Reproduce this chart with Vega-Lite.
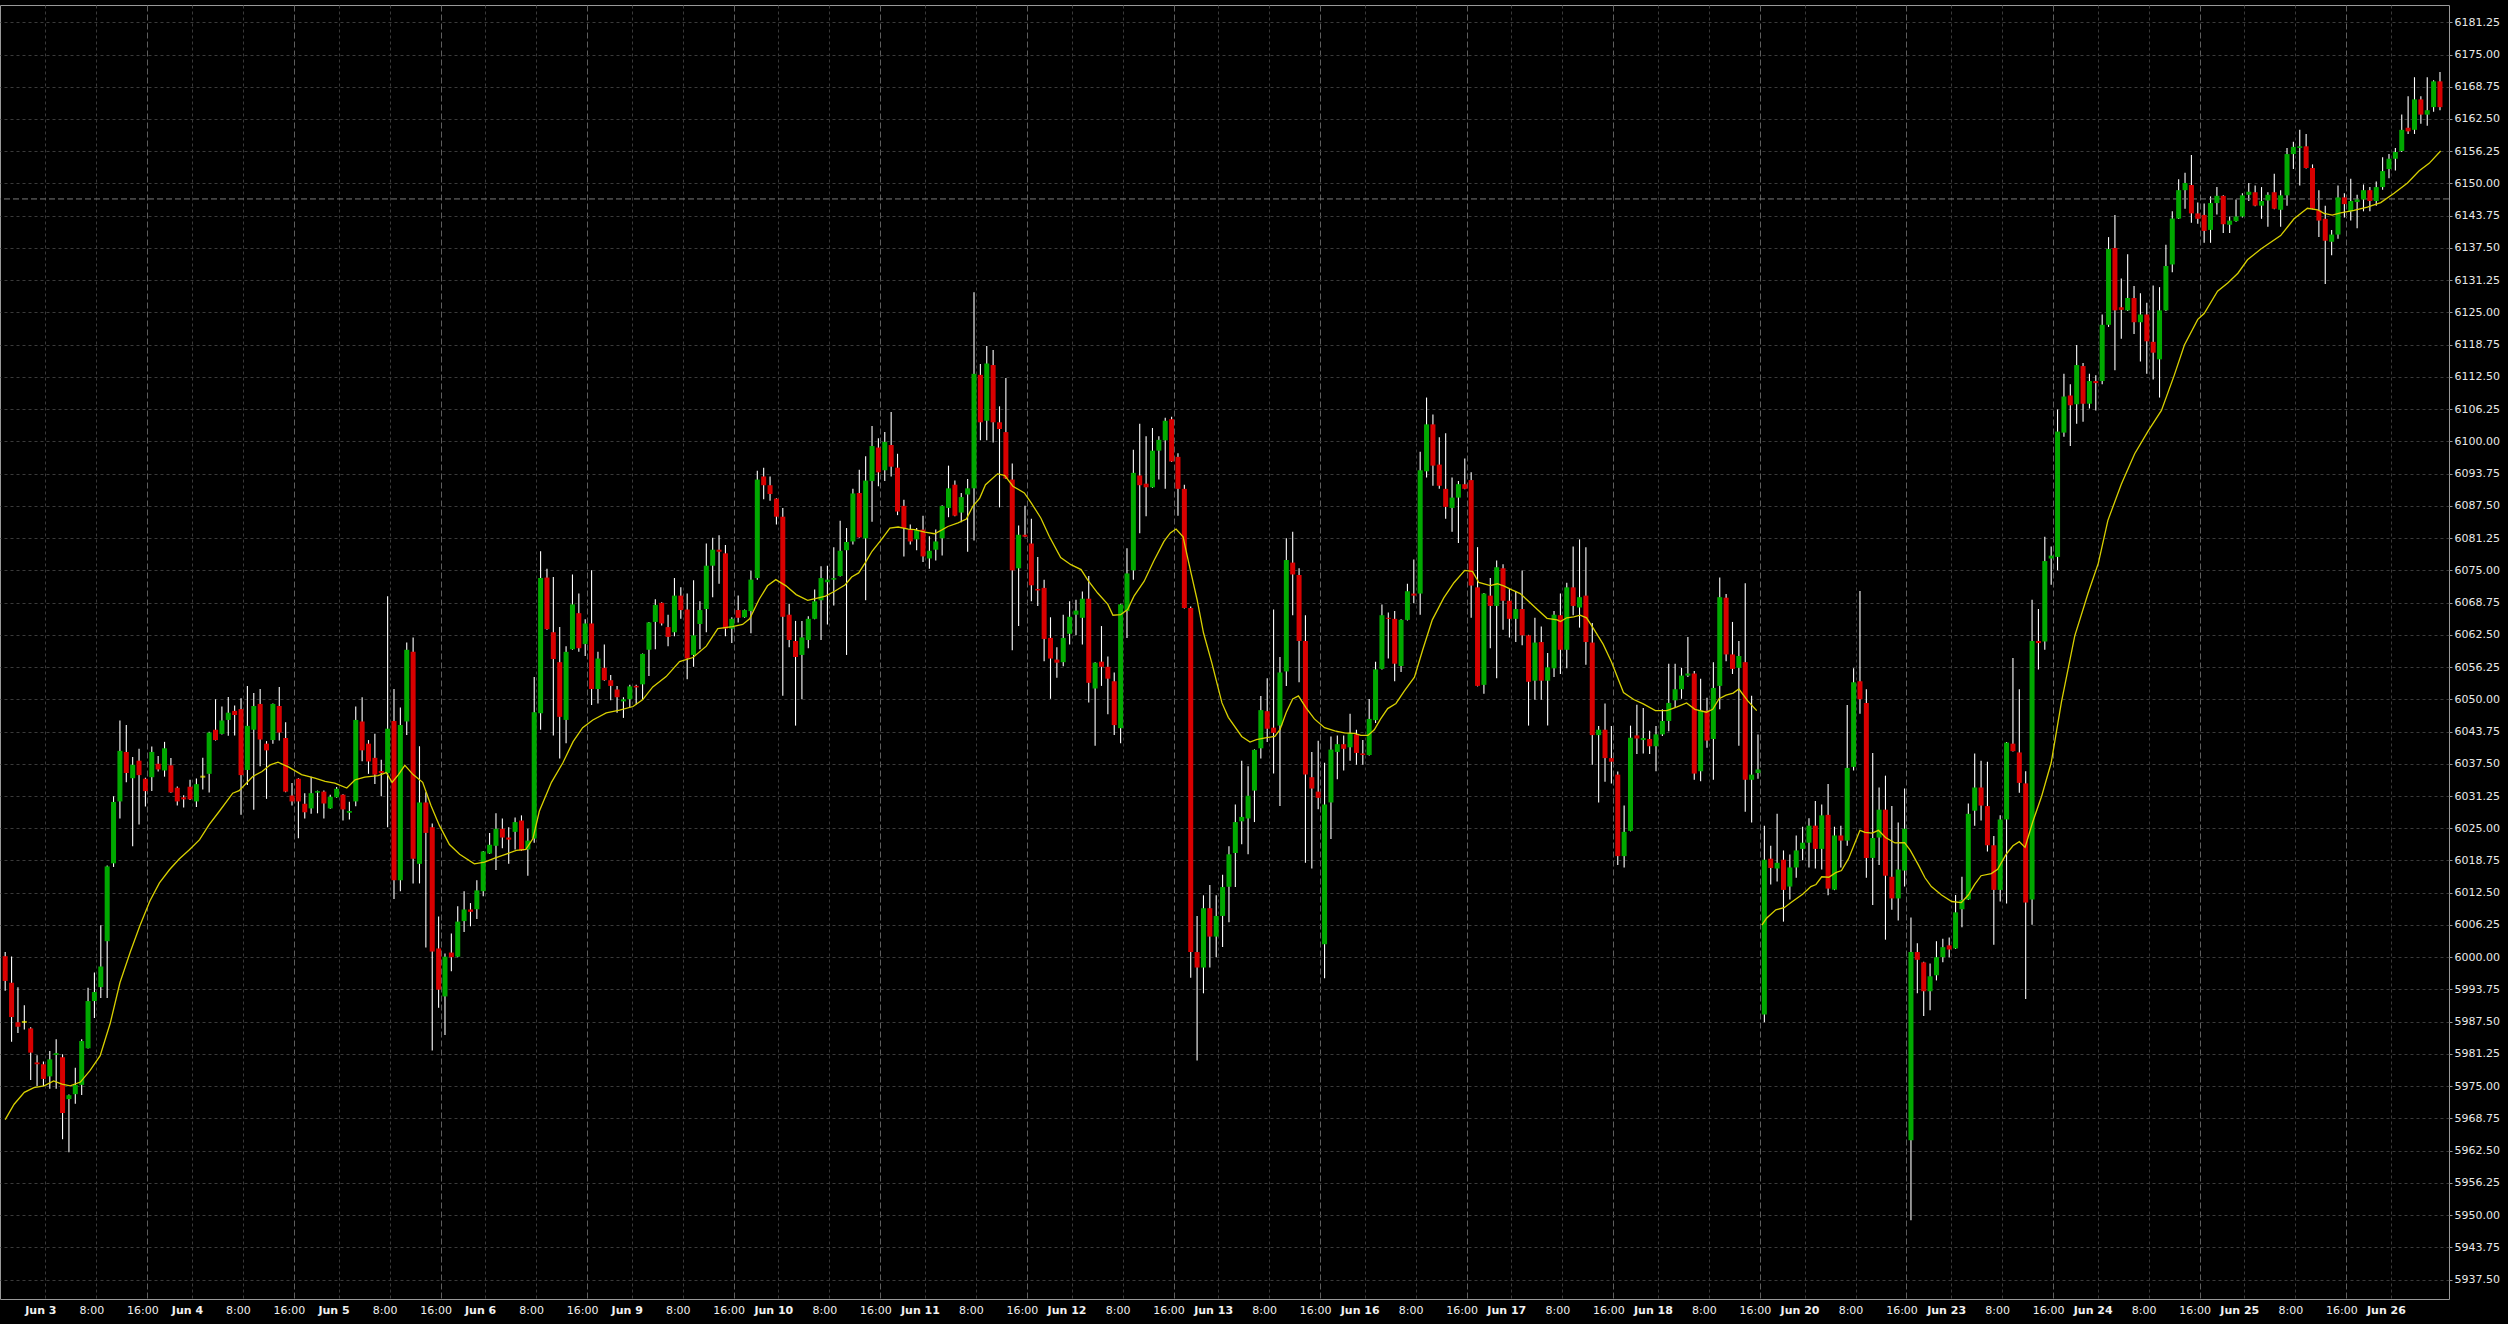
{
"$schema":"https://vega.github.io/schema/vega-lite/v6.json",
"width":2449,"height":1294,
"autosize":{"type":"none"},
"padding":{"left":0,"top":5,"right":59,"bottom":25},
"background":"#000000",
"config":{"view":{"stroke":"#999999","fill":"#000000"},"font":"DejaVu Sans",
  "axis":{"labelOverlap":false,"labelBound":false,"labelFlush":false},
  "axisY":{"labelOverlap":false,"tickCount":40},"axisX":{"labelOverlap":false}},
"datasets":{
"k":[
{"i":0,"o":6000.2,"h":6001.0,"l":5993.5,"c":5995.4},
{"i":1,"o":5995.05,"h":6000.15,"l":5983.6,"c":5988.4},
{"i":2,"o":5987.4,"h":5994.2,"l":5985.3,"c":5986.5},
{"i":3,"o":5987.45,"h":5990.7,"l":5986.0,"c":5987.45},
{"i":4,"o":5986.2,"h":5986.4,"l":5976.2,"c":5981.5},
{"i":5,"o":5979.6,"h":5981.0,"l":5975.05,"c":5979.25},
{"i":6,"o":5979.25,"h":5979.8,"l":5975.05,"c":5976.4},
{"i":7,"o":5976.9,"h":5981.8,"l":5974.5,"c":5980.2},
{"i":8,"o":5981.05,"h":5984.1,"l":5974.5,"c":5981.4},
{"i":9,"o":5980.6,"h":5981.2,"l":5964.7,"c":5969.8},
{"i":10,"o":5972.5,"h":5973.4,"l":5962.2,"c":5973.25},
{"i":11,"o":5973.45,"h":5978.55,"l":5971.6,"c":5975.25},
{"i":12,"o":5975.25,"h":5984.1,"l":5973.3,"c":5983.75},
{"i":13,"o":5982.35,"h":5994.1,"l":5982.3,"c":5991.5},
{"i":14,"o":5991.5,"h":5997.05,"l":5988.2,"c":5993.25},
{"i":15,"o":5994.2,"h":6006.2,"l":5992.1,"c":5998.2},
{"i":16,"o":6003.1,"h":6017.8,"l":5992.1,"c":6017.6},
{"i":17,"o":6018.2,"h":6031.2,"l":6017.5,"c":6030.1},
{"i":18,"o":6030.2,"h":6045.9,"l":6026.9,"c":6040.0},
{"i":19,"o":6039.8,"h":6045.0,"l":6033.9,"c":6035.7},
{"i":20,"o":6034.7,"h":6038.8,"l":6021.5,"c":6037.3},
{"i":21,"o":6038.1,"h":6040.4,"l":6025.75,"c":6035.3},
{"i":22,"o":6034.6,"h":6034.8,"l":6029.2,"c":6032.2},
{"i":23,"o":6034.9,"h":6040.85,"l":6032.2,"c":6039.8},
{"i":24,"o":6037.5,"h":6039.0,"l":6036.0,"c":6036.4},
{"i":25,"o":6036.2,"h":6041.75,"l":6035.0,"c":6040.5},
{"i":26,"o":6037.2,"h":6038.6,"l":6031.9,"c":6031.95},
{"i":27,"o":6032.85,"h":6033.1,"l":6029.4,"c":6030.2},
{"i":28,"o":6031.0,"h":6031.4,"l":6029.0,"c":6030.6},
{"i":29,"o":6033.05,"h":6034.4,"l":6030.5,"c":6030.6},
{"i":30,"o":6030.2,"h":6034.65,"l":6029.1,"c":6033.55},
{"i":31,"o":6035.0,"h":6038.65,"l":6032.5,"c":6035.0},
{"i":32,"o":6035.55,"h":6043.7,"l":6031.95,"c":6043.55},
{"i":33,"o":6044.1,"h":6050.0,"l":6042.0,"c":6042.1},
{"i":34,"o":6043.3,"h":6048.6,"l":6043.2,"c":6045.9},
{"i":35,"o":6046.0,"h":6050.45,"l":6042.95,"c":6047.4},
{"i":36,"o":6047.75,"h":6048.8,"l":6043.0,"c":6046.95},
{"i":37,"o":6048.1,"h":6050.2,"l":6027.6,"c":6035.3},
{"i":38,"o":6036.3,"h":6052.6,"l":6033.4,"c":6044.85},
{"i":39,"o":6044.1,"h":6051.2,"l":6028.6,"c":6048.7},
{"i":40,"o":6049.1,"h":6052.0,"l":6037.0,"c":6042.2},
{"i":41,"o":6041.4,"h":6041.9,"l":6030.7,"c":6040.1},
{"i":42,"o":6042.1,"h":6049.2,"l":6041.4,"c":6049.1},
{"i":43,"o":6048.7,"h":6052.4,"l":6042.0,"c":6043.55},
{"i":44,"o":6042.5,"h":6045.55,"l":6032.0,"c":6032.1},
{"i":45,"o":6031.35,"h":6033.75,"l":6029.4,"c":6030.2},
{"i":46,"o":6034.6,"h":6034.7,"l":6023.05,"c":6030.2},
{"i":47,"o":6029.75,"h":6031.8,"l":6026.9,"c":6028.1},
{"i":48,"o":6028.85,"h":6035.0,"l":6027.8,"c":6031.8},
{"i":49,"o":6031.9,"h":6032.3,"l":6027.9,"c":6032.2},
{"i":50,"o":6032.1,"h":6032.3,"l":6026.9,"c":6029.8},
{"i":51,"o":6028.85,"h":6031.5,"l":6028.8,"c":6031.1},
{"i":52,"o":6031.0,"h":6033.0,"l":6030.9,"c":6032.65},
{"i":53,"o":6031.5,"h":6031.6,"l":6026.5,"c":6028.65},
{"i":54,"o":6028.0,"h":6030.15,"l":6026.7,"c":6028.35},
{"i":55,"o":6030.2,"h":6048.6,"l":6029.25,"c":6046.0},
{"i":56,"o":6045.7,"h":6050.4,"l":6038.0,"c":6040.1},
{"i":57,"o":6041.4,"h":6042.1,"l":6035.55,"c":6037.95},
{"i":58,"o":6038.65,"h":6043.3,"l":6033.6,"c":6035.4},
{"i":59,"o":6036.1,"h":6038.3,"l":6031.2,"c":6035.7},
{"i":60,"o":6035.7,"h":6070.0,"l":6025.2,"c":6044.3},
{"i":61,"o":6045.8,"h":6052.0,"l":6011.3,"c":6014.9},
{"i":62,"o":6014.9,"h":6048.4,"l":6012.8,"c":6045.0},
{"i":63,"o":6045.7,"h":6061.0,"l":6043.1,"c":6059.6},
{"i":64,"o":6059.2,"h":6062.0,"l":6014.3,"c":6019.1},
{"i":65,"o":6018.1,"h":6040.9,"l":6014.3,"c":6030.0},
{"i":66,"o":6030.0,"h":6032.0,"l":6001.9,"c":6024.1},
{"i":67,"o":6025.2,"h":6025.9,"l":5981.9,"c":6001.1},
{"i":68,"o":6001.7,"h":6007.9,"l":5990.2,"c":5993.7},
{"i":69,"o":5992.4,"h":6000.7,"l":5984.9,"c":6000.1},
{"i":70,"o":6000.9,"h":6004.6,"l":5997.3,"c":6000.0},
{"i":71,"o":6000.1,"h":6009.9,"l":6000.0,"c":6006.9},
{"i":72,"o":6007.0,"h":6012.8,"l":6004.9,"c":6009.25},
{"i":73,"o":6009.25,"h":6010.5,"l":6006.0,"c":6008.8},
{"i":74,"o":6009.3,"h":6014.9,"l":6007.4,"c":6012.95},
{"i":75,"o":6012.8,"h":6020.6,"l":6011.8,"c":6020.5},
{"i":76,"o":6020.1,"h":6024.1,"l":6020.0,"c":6021.8},
{"i":77,"o":6021.6,"h":6027.9,"l":6016.9,"c":6024.9},
{"i":78,"o":6024.9,"h":6026.9,"l":6021.1,"c":6023.2},
{"i":79,"o":6023.2,"h":6025.2,"l":6018.1,"c":6022.8},
{"i":80,"o":6024.3,"h":6027.1,"l":6020.9,"c":6026.2},
{"i":81,"o":6026.5,"h":6027.5,"l":6020.6,"c":6020.7},
{"i":82,"o":6020.9,"h":6024.9,"l":6015.8,"c":6022.6},
{"i":83,"o":6023.0,"h":6054.3,"l":6022.2,"c":6047.5},
{"i":84,"o":6047.3,"h":6078.7,"l":6044.1,"c":6073.5},
{"i":85,"o":6073.6,"h":6075.3,"l":6063.5,"c":6063.6},
{"i":86,"o":6063.0,"h":6073.7,"l":6043.0,"c":6057.8},
{"i":87,"o":6057.2,"h":6064.0,"l":6038.5,"c":6046.6},
{"i":88,"o":6046.0,"h":6060.3,"l":6041.5,"c":6059.2},
{"i":89,"o":6059.7,"h":6074.2,"l":6059.6,"c":6068.4},
{"i":90,"o":6066.7,"h":6070.5,"l":6059.2,"c":6059.9},
{"i":91,"o":6060.7,"h":6065.5,"l":6058.4,"c":6064.7},
{"i":92,"o":6064.7,"h":6075.0,"l":6048.9,"c":6052.0},
{"i":93,"o":6052.0,"h":6059.2,"l":6049.2,"c":6057.9},
{"i":94,"o":6056.1,"h":6060.6,"l":6053.6,"c":6053.7},
{"i":95,"o":6053.7,"h":6054.7,"l":6049.8,"c":6052.6},
{"i":96,"o":6051.9,"h":6052.6,"l":6047.4,"c":6050.4},
{"i":97,"o":6049.6,"h":6050.4,"l":6046.4,"c":6050.0},
{"i":98,"o":6050.0,"h":6052.8,"l":6048.5,"c":6052.5},
{"i":99,"o":6052.6,"h":6052.8,"l":6049.0,"c":6052.3},
{"i":100,"o":6052.9,"h":6058.9,"l":6049.9,"c":6058.8},
{"i":101,"o":6059.6,"h":6065.0,"l":6054.5,"c":6064.9},
{"i":102,"o":6065.0,"h":6069.4,"l":6059.7,"c":6068.3},
{"i":103,"o":6068.7,"h":6068.8,"l":6064.3,"c":6064.7},
{"i":104,"o":6064.0,"h":6066.4,"l":6060.3,"c":6062.1},
{"i":105,"o":6063.0,"h":6073.5,"l":6062.2,"c":6070.1},
{"i":106,"o":6070.1,"h":6071.7,"l":6065.6,"c":6067.3},
{"i":107,"o":6067.4,"h":6070.5,"l":6053.9,"c":6057.9},
{"i":108,"o":6058.6,"h":6073.1,"l":6056.3,"c":6062.4},
{"i":109,"o":6064.6,"h":6069.0,"l":6059.7,"c":6067.3},
{"i":110,"o":6067.5,"h":6080.2,"l":6063.0,"c":6075.9},
{"i":111,"o":6075.9,"h":6081.3,"l":6069.8,"c":6079.0},
{"i":112,"o":6079.0,"h":6081.8,"l":6072.4,"c":6078.6},
{"i":113,"o":6078.3,"h":6079.9,"l":6062.2,"c":6063.7},
{"i":114,"o":6063.7,"h":6065.9,"l":6060.9,"c":6065.6},
{"i":115,"o":6067.3,"h":6070.1,"l":6064.9,"c":6065.8},
{"i":116,"o":6065.9,"h":6067.4,"l":6065.8,"c":6067.3},
{"i":117,"o":6067.1,"h":6074.9,"l":6062.8,"c":6073.2},
{"i":118,"o":6073.5,"h":6094.3,"l":6073.2,"c":6092.6},
{"i":119,"o":6093.2,"h":6094.9,"l":6088.8,"c":6091.5},
{"i":120,"o":6091.5,"h":6093.2,"l":6088.5,"c":6089.8},
{"i":121,"o":6088.9,"h":6089.0,"l":6083.9,"c":6085.4},
{"i":122,"o":6085.4,"h":6087.1,"l":6050.7,"c":6066.0},
{"i":123,"o":6066.4,"h":6068.5,"l":6060.1,"c":6061.5},
{"i":124,"o":6061.3,"h":6065.2,"l":6044.9,"c":6058.2},
{"i":125,"o":6058.6,"h":6065.2,"l":6050.0,"c":6062.0},
{"i":126,"o":6061.5,"h":6066.1,"l":6059.9,"c":6065.6},
{"i":127,"o":6065.6,"h":6071.3,"l":6065.5,"c":6069.0},
{"i":128,"o":6069.2,"h":6075.8,"l":6061.5,"c":6073.5},
{"i":129,"o":6072.7,"h":6075.9,"l":6064.5,"c":6073.2},
{"i":130,"o":6073.2,"h":6079.5,"l":6068.2,"c":6073.5},
{"i":131,"o":6073.9,"h":6084.6,"l":6073.8,"c":6078.8},
{"i":132,"o":6078.9,"h":6083.2,"l":6058.6,"c":6080.5},
{"i":133,"o":6080.6,"h":6090.8,"l":6080.0,"c":6089.9},
{"i":134,"o":6090.0,"h":6094.5,"l":6081.3,"c":6081.4},
{"i":135,"o":6081.2,"h":6097.1,"l":6069.2,"c":6092.4},
{"i":136,"o":6092.3,"h":6103.0,"l":6084.4,"c":6099.1},
{"i":137,"o":6098.8,"h":6100.6,"l":6091.3,"c":6094.0},
{"i":138,"o":6094.4,"h":6101.8,"l":6092.3,"c":6099.9},
{"i":139,"o":6099.3,"h":6105.7,"l":6093.2,"c":6095.1},
{"i":140,"o":6094.9,"h":6097.6,"l":6085.7,"c":6086.4},
{"i":141,"o":6087.5,"h":6088.7,"l":6077.7,"c":6083.2},
{"i":142,"o":6082.9,"h":6083.9,"l":6080.0,"c":6080.6},
{"i":143,"o":6081.0,"h":6083.2,"l":6078.9,"c":6082.8},
{"i":144,"o":6082.9,"h":6085.6,"l":6076.6,"c":6077.7},
{"i":145,"o":6077.3,"h":6081.6,"l":6075.3,"c":6078.8},
{"i":146,"o":6079.0,"h":6082.9,"l":6076.9,"c":6080.6},
{"i":147,"o":6081.2,"h":6087.6,"l":6077.9,"c":6087.5},
{"i":148,"o":6087.1,"h":6095.3,"l":6085.3,"c":6090.9},
{"i":149,"o":6091.6,"h":6092.4,"l":6085.5,"c":6085.6},
{"i":150,"o":6086.2,"h":6090.0,"l":6084.3,"c":6089.2},
{"i":151,"o":6089.7,"h":6092.7,"l":6078.6,"c":6090.9},
{"i":152,"o":6090.9,"h":6128.9,"l":6080.8,"c":6113.1},
{"i":153,"o":6112.9,"h":6115.0,"l":6100.2,"c":6103.7},
{"i":154,"o":6104.0,"h":6118.5,"l":6100.2,"c":6115.1},
{"i":155,"o":6114.8,"h":6117.7,"l":6099.8,"c":6103.7},
{"i":156,"o":6103.7,"h":6106.8,"l":6087.2,"c":6102.4},
{"i":157,"o":6101.8,"h":6112.3,"l":6092.7,"c":6092.8},
{"i":158,"o":6092.6,"h":6095.7,"l":6059.5,"c":6075.0},
{"i":159,"o":6075.4,"h":6083.7,"l":6064.2,"c":6081.9},
{"i":160,"o":6081.9,"h":6087.5,"l":6081.4,"c":6081.5},
{"i":161,"o":6080.2,"h":6085.0,"l":6069.0,"c":6072.1},
{"i":162,"o":6071.4,"h":6077.6,"l":6068.1,"c":6071.1},
{"i":163,"o":6071.6,"h":6073.2,"l":6057.4,"c":6061.7},
{"i":164,"o":6061.9,"h":6065.9,"l":6050.1,"c":6057.9},
{"i":165,"o":6057.7,"h":6060.1,"l":6054.2,"c":6057.1},
{"i":166,"o":6057.2,"h":6066.4,"l":6056.4,"c":6061.9},
{"i":167,"o":6062.7,"h":6069.0,"l":6060.6,"c":6066.0},
{"i":168,"o":6066.4,"h":6069.3,"l":6062.4,"c":6067.2},
{"i":169,"o":6065.8,"h":6070.9,"l":6060.6,"c":6069.5},
{"i":170,"o":6069.5,"h":6073.9,"l":6049.4,"c":6053.2},
{"i":171,"o":6052.1,"h":6057.2,"l":6041.0,"c":6057.1},
{"i":172,"o":6057.3,"h":6064.2,"l":6052.6,"c":6056.3},
{"i":173,"o":6056.3,"h":6058.3,"l":6047.1,"c":6054.0},
{"i":174,"o":6053.5,"h":6055.2,"l":6043.1,"c":6045.0},
{"i":175,"o":6044.4,"h":6068.5,"l":6041.5,"c":6068.4},
{"i":176,"o":6067.1,"h":6079.3,"l":6061.9,"c":6074.4},
{"i":177,"o":6075.0,"h":6098.4,"l":6073.2,"c":6093.9},
{"i":178,"o":6093.4,"h":6103.4,"l":6082.2,"c":6091.5},
{"i":179,"o":6091.8,"h":6101.0,"l":6085.5,"c":6091.1},
{"i":180,"o":6091.1,"h":6102.6,"l":6091.0,"c":6098.2},
{"i":181,"o":6098.2,"h":6101.0,"l":6092.6,"c":6100.3},
{"i":182,"o":6100.2,"h":6104.6,"l":6090.8,"c":6104.0},
{"i":183,"o":6104.3,"h":6104.8,"l":6096.0,"c":6096.1},
{"i":184,"o":6097.0,"h":6097.7,"l":6085.6,"c":6090.8},
{"i":185,"o":6090.8,"h":6091.6,"l":6067.6,"c":6067.7},
{"i":186,"o":6067.7,"h":6068.0,"l":5996.0,"c":6001.0},
{"i":187,"o":6001.0,"h":6008.0,"l":5980.0,"c":5998.0},
{"i":188,"o":5998.0,"h":6012.0,"l":5993.0,"c":6009.5},
{"i":189,"o":6009.5,"h":6014.0,"l":5998.0,"c":6004.0},
{"i":190,"o":6004.0,"h":6012.0,"l":6000.0,"c":6008.0},
{"i":191,"o":6008.0,"h":6016.0,"l":6002.0,"c":6013.6},
{"i":192,"o":6013.65,"h":6021.5,"l":6006.8,"c":6019.95},
{"i":193,"o":6020.2,"h":6029.6,"l":6013.6,"c":6026.2},
{"i":194,"o":6026.35,"h":6038.1,"l":6021.9,"c":6027.2},
{"i":195,"o":6026.9,"h":6037.0,"l":6019.95,"c":6031.3},
{"i":196,"o":6032.3,"h":6040.3,"l":6026.2,"c":6040.2},
{"i":197,"o":6040.5,"h":6050.65,"l":6038.5,"c":6047.9},
{"i":198,"o":6047.7,"h":6054.1,"l":6041.7,"c":6044.3},
{"i":199,"o":6044.5,"h":6067.4,"l":6035.6,"c":6043.5},
{"i":200,"o":6044.9,"h":6058.2,"l":6029.3,"c":6055.2},
{"i":201,"o":6055.4,"h":6081.2,"l":6052.6,"c":6077.0},
{"i":202,"o":6076.5,"h":6082.5,"l":6066.3,"c":6074.2},
{"i":203,"o":6074.1,"h":6075.4,"l":6053.3,"c":6061.3},
{"i":204,"o":6061.3,"h":6066.3,"l":6018.3,"c":6035.4},
{"i":205,"o":6034.9,"h":6039.8,"l":6017.2,"c":6032.7},
{"i":206,"o":6032.1,"h":6041.95,"l":6028.7,"c":6030.9},
{"i":207,"o":6002.5,"h":6037.7,"l":5995.9,"c":6029.6},
{"i":208,"o":6030.0,"h":6042.8,"l":6022.9,"c":6040.25},
{"i":209,"o":6039.8,"h":6043.0,"l":6034.5,"c":6041.3},
{"i":210,"o":6041.3,"h":6043.0,"l":6036.2,"c":6040.4},
{"i":211,"o":6040.7,"h":6047.2,"l":6038.1,"c":6043.4},
{"i":212,"o":6043.2,"h":6044.1,"l":6037.3,"c":6039.6},
{"i":213,"o":6039.5,"h":6042.1,"l":6037.3,"c":6039.2},
{"i":214,"o":6039.2,"h":6050.05,"l":6039.1,"c":6046.2},
{"i":215,"o":6045.95,"h":6057.3,"l":6045.4,"c":6055.8},
{"i":216,"o":6055.9,"h":6068.4,"l":6055.8,"c":6066.3},
{"i":217,"o":6065.8,"h":6066.85,"l":6057.9,"c":6065.6},
{"i":218,"o":6065.6,"h":6067.1,"l":6053.5,"c":6056.9},
{"i":219,"o":6056.45,"h":6065.5,"l":6055.3,"c":6065.4},
{"i":220,"o":6065.4,"h":6072.4,"l":6065.3,"c":6070.95},
{"i":221,"o":6070.5,"h":6077.1,"l":6068.6,"c":6070.1},
{"i":222,"o":6070.5,"h":6098.0,"l":6066.4,"c":6094.4},
{"i":223,"o":6094.2,"h":6108.5,"l":6093.0,"c":6103.3},
{"i":224,"o":6103.3,"h":6105.2,"l":6091.4,"c":6095.3},
{"i":225,"o":6095.5,"h":6100.8,"l":6090.8,"c":6091.4},
{"i":226,"o":6090.8,"h":6101.6,"l":6085.0,"c":6087.3},
{"i":227,"o":6087.1,"h":6093.0,"l":6082.5,"c":6089.1},
{"i":228,"o":6089.1,"h":6092.3,"l":6080.3,"c":6091.7},
{"i":229,"o":6091.7,"h":6096.7,"l":6090.7,"c":6090.8},
{"i":230,"o":6092.5,"h":6094.0,"l":6065.8,"c":6072.05},
{"i":231,"o":6071.7,"h":6079.5,"l":6052.5,"c":6052.6},
{"i":232,"o":6052.8,"h":6070.6,"l":6051.1,"c":6070.5},
{"i":233,"o":6070.1,"h":6073.5,"l":6059.9,"c":6068.1},
{"i":234,"o":6068.1,"h":6076.9,"l":6054.1,"c":6075.6},
{"i":235,"o":6075.4,"h":6076.2,"l":6063.5,"c":6069.1},
{"i":236,"o":6069.1,"h":6071.4,"l":6062.0,"c":6065.6},
{"i":237,"o":6065.6,"h":6070.95,"l":6061.1,"c":6067.5},
{"i":238,"o":6067.5,"h":6074.95,"l":6060.5,"c":6062.4},
{"i":239,"o":6062.4,"h":6062.5,"l":6044.9,"c":6053.4},
{"i":240,"o":6053.6,"h":6065.8,"l":6049.9,"c":6061.0},
{"i":241,"o":6061.1,"h":6064.1,"l":6049.9,"c":6053.6},
{"i":242,"o":6053.6,"h":6059.0,"l":6044.9,"c":6056.2},
{"i":243,"o":6056.0,"h":6067.1,"l":6054.3,"c":6066.4},
{"i":244,"o":6066.3,"h":6070.5,"l":6054.9,"c":6059.6},
{"i":245,"o":6059.6,"h":6072.6,"l":6056.0,"c":6071.7},
{"i":246,"o":6071.7,"h":6079.6,"l":6066.3,"c":6068.1},
{"i":247,"o":6067.8,"h":6081.0,"l":6063.9,"c":6069.8},
{"i":248,"o":6070.1,"h":6079.5,"l":6056.7,"c":6061.1},
{"i":249,"o":6061.0,"h":6064.8,"l":6037.3,"c":6043.06},
{"i":250,"o":6043.06,"h":6044.8,"l":6030.0,"c":6044.1},
{"i":251,"o":6044.1,"h":6049.2,"l":6034.0,"c":6038.6},
{"i":252,"o":6038.6,"h":6044.8,"l":6033.7,"c":6037.9},
{"i":253,"o":6035.4,"h":6036.0,"l":6017.9,"c":6019.6},
{"i":254,"o":6019.6,"h":6029.4,"l":6017.4,"c":6024.3},
{"i":255,"o":6024.5,"h":6044.9,"l":6024.4,"c":6042.55},
{"i":256,"o":6043.0,"h":6048.95,"l":6039.4,"c":6042.4},
{"i":257,"o":6042.1,"h":6048.3,"l":6039.5,"c":6042.5},
{"i":258,"o":6042.3,"h":6043.9,"l":6039.4,"c":6040.9},
{"i":259,"o":6040.9,"h":6044.8,"l":6036.05,"c":6043.2},
{"i":260,"o":6043.2,"h":6048.05,"l":6042.9,"c":6045.8},
{"i":261,"o":6045.8,"h":6056.9,"l":6043.8,"c":6049.3},
{"i":262,"o":6049.8,"h":6056.9,"l":6048.3,"c":6051.95},
{"i":263,"o":6051.95,"h":6056.1,"l":6050.1,"c":6054.6},
{"i":264,"o":6054.6,"h":6062.1,"l":6054.3,"c":6055.0},
{"i":265,"o":6055.0,"h":6055.5,"l":6034.4,"c":6035.6},
{"i":266,"o":6036.05,"h":6054.0,"l":6034.1,"c":6047.8},
{"i":267,"o":6047.8,"h":6050.3,"l":6040.6,"c":6042.0},
{"i":268,"o":6042.3,"h":6057.2,"l":6034.4,"c":6052.2},
{"i":269,"o":6052.6,"h":6073.6,"l":6048.05,"c":6069.8},
{"i":270,"o":6069.7,"h":6070.4,"l":6057.4,"c":6058.7},
{"i":271,"o":6058.7,"h":6065.0,"l":6054.9,"c":6055.9},
{"i":272,"o":6056.1,"h":6061.3,"l":6041.0,"c":6058.4},
{"i":273,"o":6057.2,"h":6072.5,"l":6028.2,"c":6034.4},
{"i":274,"o":6034.4,"h":6050.7,"l":6026.1,"c":6035.4},
{"i":275,"o":6035.7,"h":6043.2,"l":6034.6,"c":6036.4},
{"i":276,"o":5988.9,"h":6025.5,"l":5987.4,"c":6018.9},
{"i":277,"o":6019.1,"h":6021.6,"l":6014.1,"c":6017.3},
{"i":278,"o":6017.2,"h":6027.8,"l":6014.7,"c":6018.3},
{"i":279,"o":6018.9,"h":6020.7,"l":6006.9,"c":6013.05},
{"i":280,"o":6013.7,"h":6019.9,"l":6011.2,"c":6017.4},
{"i":281,"o":6017.4,"h":6023.6,"l":6015.4,"c":6020.7},
{"i":282,"o":6021.0,"h":6025.3,"l":6018.8,"c":6022.2},
{"i":283,"o":6022.2,"h":6026.95,"l":6017.4,"c":6025.5},
{"i":284,"o":6025.5,"h":6030.3,"l":6017.2,"c":6021.0},
{"i":285,"o":6021.0,"h":6029.6,"l":6017.0,"c":6027.5},
{"i":286,"o":6027.6,"h":6033.6,"l":6012.0,"c":6013.3},
{"i":287,"o":6013.1,"h":6025.3,"l":6013.0,"c":6023.6},
{"i":288,"o":6023.6,"h":6025.5,"l":6017.4,"c":6022.6},
{"i":289,"o":6022.6,"h":6048.9,"l":6021.6,"c":6036.7},
{"i":290,"o":6036.9,"h":6056.0,"l":6036.2,"c":6053.3},
{"i":291,"o":6053.5,"h":6071.0,"l":6047.2,"c":6050.0},
{"i":292,"o":6049.3,"h":6051.95,"l":6015.4,"c":6019.25},
{"i":293,"o":6019.25,"h":6039.6,"l":6010.1,"c":6023.1},
{"i":294,"o":6023.2,"h":6032.9,"l":6017.9,"c":6028.6},
{"i":295,"o":6028.6,"h":6035.2,"l":6003.4,"c":6015.8},
{"i":296,"o":6015.6,"h":6029.3,"l":6009.2,"c":6011.4},
{"i":297,"o":6011.4,"h":6026.1,"l":6007.1,"c":6017.0},
{"i":298,"o":6016.8,"h":6032.7,"l":6013.7,"c":6024.9},
{"i":299,"o":5964.5,"h":6007.7,"l":5949.0,"c":6001.0},
{"i":300,"o":6001.0,"h":6002.7,"l":5993.0,"c":5999.5},
{"i":301,"o":5999.0,"h":5999.1,"l":5988.6,"c":5993.4},
{"i":302,"o":5993.4,"h":5998.8,"l":5989.7,"c":5996.3},
{"i":303,"o":5996.5,"h":6003.1,"l":5995.5,"c":6000.0},
{"i":304,"o":6000.0,"h":6003.6,"l":5999.0,"c":6001.95},
{"i":305,"o":6002.3,"h":6003.8,"l":6000.0,"c":6001.5},
{"i":306,"o":6001.7,"h":6012.05,"l":6001.6,"c":6008.7},
{"i":307,"o":6009.3,"h":6015.6,"l":6005.8,"c":6011.1},
{"i":308,"o":6011.2,"h":6029.8,"l":6011.1,"c":6027.8},
{"i":309,"o":6028.4,"h":6039.5,"l":6025.5,"c":6032.9},
{"i":310,"o":6032.9,"h":6038.1,"l":6026.5,"c":6029.4},
{"i":311,"o":6029.3,"h":6037.9,"l":6020.5,"c":6021.7},
{"i":312,"o":6021.7,"h":6023.5,"l":6002.4,"c":6013.05},
{"i":313,"o":6013.05,"h":6027.5,"l":6010.8,"c":6026.7},
{"i":314,"o":6026.7,"h":6041.7,"l":6010.4,"c":6041.6},
{"i":315,"o":6041.4,"h":6058.0,"l":6039.9,"c":6039.95},
{"i":316,"o":6039.7,"h":6051.95,"l":6031.9,"c":6033.8},
{"i":317,"o":6033.7,"h":6036.05,"l":5991.9,"c":6010.6},
{"i":318,"o":6011.2,"h":6069.3,"l":6006.3,"c":6061.3},
{"i":319,"o":6061.3,"h":6067.5,"l":6055.8,"c":6060.9},
{"i":320,"o":6061.2,"h":6081.5,"l":6059.6,"c":6076.8},
{"i":321,"o":6077.3,"h":6079.6,"l":6072.2,"c":6077.85},
{"i":322,"o":6077.6,"h":6106.2,"l":6075.0,"c":6101.9},
{"i":323,"o":6101.7,"h":6113.1,"l":6100.9,"c":6108.7},
{"i":324,"o":6108.9,"h":6111.1,"l":6099.1,"c":6107.0},
{"i":325,"o":6107.2,"h":6118.7,"l":6103.4,"c":6114.8},
{"i":326,"o":6114.6,"h":6115.2,"l":6103.8,"c":6107.3},
{"i":327,"o":6107.3,"h":6113.1,"l":6106.4,"c":6111.7},
{"i":328,"o":6111.7,"h":6112.8,"l":6106.0,"c":6111.3},
{"i":329,"o":6111.7,"h":6124.6,"l":6111.1,"c":6122.6},
{"i":330,"o":6122.6,"h":6139.6,"l":6122.2,"c":6137.3},
{"i":331,"o":6137.5,"h":6143.9,"l":6113.8,"c":6125.4},
{"i":332,"o":6126.0,"h":6131.6,"l":6119.9,"c":6125.5},
{"i":333,"o":6125.4,"h":6136.3,"l":6125.3,"c":6127.8},
{"i":334,"o":6127.8,"h":6130.1,"l":6120.8,"c":6123.1},
{"i":335,"o":6123.1,"h":6128.7,"l":6115.5,"c":6124.6},
{"i":336,"o":6124.6,"h":6126.9,"l":6113.1,"c":6119.4},
{"i":337,"o":6119.3,"h":6130.2,"l":6112.0,"c":6117.2},
{"i":338,"o":6115.9,"h":6129.9,"l":6108.5,"c":6125.4},
{"i":339,"o":6125.4,"h":6138.1,"l":6125.3,"c":6134.0},
{"i":340,"o":6134.3,"h":6144.6,"l":6132.8,"c":6143.2},
{"i":341,"o":6143.2,"h":6150.8,"l":6143.1,"c":6148.7},
{"i":342,"o":6148.7,"h":6152.1,"l":6145.1,"c":6150.1},
{"i":343,"o":6149.7,"h":6155.5,"l":6142.4,"c":6144.2},
{"i":344,"o":6144.2,"h":6146.3,"l":6142.2,"c":6143.15},
{"i":345,"o":6143.9,"h":6146.1,"l":6138.5,"c":6140.8},
{"i":346,"o":6141.0,"h":6147.5,"l":6138.5,"c":6146.2},
{"i":347,"o":6146.2,"h":6149.3,"l":6144.0,"c":6147.6},
{"i":348,"o":6147.6,"h":6147.7,"l":6140.4,"c":6142.1},
{"i":349,"o":6142.0,"h":6143.6,"l":6140.4,"c":6142.8},
{"i":350,"o":6142.7,"h":6146.9,"l":6142.6,"c":6143.6},
{"i":351,"o":6143.6,"h":6148.1,"l":6143.4,"c":6147.7},
{"i":352,"o":6147.8,"h":6150.1,"l":6146.6,"c":6148.4},
{"i":353,"o":6148.3,"h":6149.6,"l":6145.6,"c":6145.7},
{"i":354,"o":6145.7,"h":6149.3,"l":6143.15,"c":6146.6},
{"i":355,"o":6146.7,"h":6148.3,"l":6141.6,"c":6147.8},
{"i":356,"o":6148.3,"h":6151.9,"l":6145.0,"c":6145.1},
{"i":357,"o":6144.9,"h":6148.7,"l":6141.6,"c":6147.7},
{"i":358,"o":6147.7,"h":6156.9,"l":6145.7,"c":6155.7},
{"i":359,"o":6155.7,"h":6158.1,"l":6152.8,"c":6157.1},
{"i":360,"o":6156.9,"h":6160.4,"l":6149.6,"c":6157.2},
{"i":361,"o":6157.2,"h":6159.6,"l":6152.9,"c":6153.0},
{"i":362,"o":6153.0,"h":6153.7,"l":6145.0,"c":6145.1},
{"i":363,"o":6144.8,"h":6148.7,"l":6139.6,"c":6142.8},
{"i":364,"o":6143.15,"h":6145.7,"l":6130.5,"c":6138.9},
{"i":365,"o":6138.7,"h":6141.0,"l":6136.1,"c":6140.1},
{"i":366,"o":6140.1,"h":6149.6,"l":6139.3,"c":6147.3},
{"i":367,"o":6147.3,"h":6148.1,"l":6143.4,"c":6146.0},
{"i":368,"o":6144.6,"h":6150.9,"l":6142.8,"c":6146.6},
{"i":369,"o":6146.4,"h":6147.8,"l":6141.3,"c":6146.9},
{"i":370,"o":6146.9,"h":6149.8,"l":6144.6,"c":6148.7},
{"i":371,"o":6148.7,"h":6149.3,"l":6144.6,"c":6146.6},
{"i":372,"o":6146.6,"h":6150.4,"l":6145.7,"c":6149.3},
{"i":373,"o":6149.3,"h":6155.1,"l":6148.8,"c":6152.4},
{"i":374,"o":6152.8,"h":6155.7,"l":6151.0,"c":6154.8},
{"i":375,"o":6154.8,"h":6156.9,"l":6152.5,"c":6156.1},
{"i":376,"o":6156.3,"h":6163.35,"l":6156.1,"c":6160.4},
{"i":377,"o":6160.8,"h":6166.9,"l":6159.6,"c":6160.1},
{"i":378,"o":6160.4,"h":6170.6,"l":6159.6,"c":6166.3},
{"i":379,"o":6166.3,"h":6166.9,"l":6161.6,"c":6163.35},
{"i":380,"o":6163.35,"h":6170.6,"l":6161.2,"c":6164.2},
{"i":381,"o":6164.8,"h":6170.0,"l":6163.9,"c":6169.8},
{"i":382,"o":6169.8,"h":6171.6,"l":6164.2,"c":6164.8}
],
"ma":[
{"i":0,"v":5968.5,"s":0},{"i":1.4,"v":5971.5,"s":0},{"i":3.0,"v":5973.8,"s":0},{"i":4.5,"v":5974.7,"s":0},{"i":6.1,"v":5975.05,"s":0},{"i":7.6,"v":5976.0,"s":0},{"i":8.9,"v":5975.4,"s":0},{"i":10.2,"v":5975.05,"s":0},{"i":11.8,"v":5975.8,"s":0},{"i":13.3,"v":5978.0,"s":0},{"i":14.9,"v":5980.9,"s":0},{"i":16.5,"v":5987.3,"s":0},{"i":18.0,"v":5995.05,"s":0},{"i":19.6,"v":6000.9,"s":0},{"i":21.1,"v":6006.0,"s":0},{"i":22.7,"v":6010.9,"s":0},{"i":24.2,"v":6014.4,"s":0},{"i":25.8,"v":6017.0,"s":0},{"i":27.3,"v":6019.05,"s":0},{"i":28.9,"v":6020.85,"s":0},{"i":30.5,"v":6022.8,"s":0},{"i":32.0,"v":6025.7,"s":0},{"i":33.6,"v":6028.3,"s":0},{"i":35.7,"v":6031.8,"s":0},{"i":36.7,"v":6032.3,"s":0},{"i":38.8,"v":6035.0,"s":0},{"i":40.3,"v":6036.0,"s":0},{"i":41.6,"v":6037.3,"s":0},{"i":42.8,"v":6037.8,"s":0},{"i":44.5,"v":6036.85,"s":0},{"i":46.5,"v":6035.4,"s":0},{"i":48.6,"v":6034.7,"s":0},{"i":50.2,"v":6034.1,"s":0},{"i":51.7,"v":6033.75,"s":0},{"i":53.6,"v":6032.8,"s":0},{"i":54.9,"v":6034.4,"s":0},{"i":56.4,"v":6034.9,"s":0},{"i":58.5,"v":6035.2,"s":0},{"i":59.8,"v":6035.8,"s":0},{"i":60.7,"v":6033.9,"s":0},{"i":61.7,"v":6035.4,"s":0},{"i":62.7,"v":6037.2,"s":0},{"i":64.0,"v":6035.4,"s":0},{"i":65.5,"v":6033.9,"s":0},{"i":66.8,"v":6029.4,"s":0},{"i":68.1,"v":6025.6,"s":0},{"i":69.7,"v":6021.85,"s":0},{"i":71.3,"v":6019.95,"s":0},{"i":73.6,"v":6018.1,"s":0},{"i":75.2,"v":6018.45,"s":0},{"i":76.8,"v":6019.2,"s":0},{"i":78.6,"v":6020.0,"s":0},{"i":80.2,"v":6020.7,"s":0},{"i":81.7,"v":6020.9,"s":0},{"i":82.8,"v":6023.0,"s":0},{"i":83.8,"v":6028.3,"s":0},{"i":85.7,"v":6033.9,"s":0},{"i":87.5,"v":6037.7,"s":0},{"i":89.1,"v":6041.8,"s":0},{"i":90.6,"v":6044.5,"s":0},{"i":92.2,"v":6046.0,"s":0},{"i":94.3,"v":6047.35,"s":0},{"i":96.4,"v":6047.9,"s":0},{"i":98.5,"v":6048.6,"s":0},{"i":100.0,"v":6049.9,"s":0},{"i":101.6,"v":6052.4,"s":0},{"i":103.7,"v":6054.4,"s":0},{"i":105.8,"v":6057.3,"s":0},{"i":107.9,"v":6058.1,"s":0},{"i":110.0,"v":6060.3,"s":0},{"i":111.8,"v":6063.7,"s":0},{"i":114.1,"v":6064.1,"s":0},{"i":115.7,"v":6064.5,"s":0},{"i":116.8,"v":6065.6,"s":0},{"i":118.3,"v":6069.4,"s":0},{"i":119.6,"v":6072.0,"s":0},{"i":120.9,"v":6073.2,"s":0},{"i":122.5,"v":6072.0,"s":0},{"i":124.1,"v":6070.3,"s":0},{"i":125.9,"v":6069.2,"s":0},{"i":127.1,"v":6069.5,"s":0},{"i":128.7,"v":6070.0,"s":0},{"i":130.2,"v":6071.0,"s":0},{"i":131.8,"v":6072.2,"s":0},{"i":132.8,"v":6073.7,"s":0},{"i":133.9,"v":6074.5,"s":0},{"i":134.9,"v":6076.4,"s":0},{"i":136.0,"v":6078.7,"s":0},{"i":137.5,"v":6081.0,"s":0},{"i":138.8,"v":6083.2,"s":0},{"i":140.1,"v":6083.4,"s":0},{"i":141.7,"v":6083.0,"s":0},{"i":142.7,"v":6082.9,"s":0},{"i":144.3,"v":6082.4,"s":0},{"i":145.8,"v":6082.1,"s":0},{"i":146.9,"v":6082.8,"s":0},{"i":147.9,"v":6083.5,"s":0},{"i":149.5,"v":6084.2,"s":0},{"i":150.8,"v":6084.95,"s":0},{"i":151.8,"v":6087.4,"s":0},{"i":152.9,"v":6089.0,"s":0},{"i":153.8,"v":6091.6,"s":0},{"i":155.7,"v":6093.7,"s":0},{"i":156.8,"v":6093.4,"s":0},{"i":158.1,"v":6091.3,"s":0},{"i":159.9,"v":6090.0,"s":0},{"i":161.0,"v":6088.05,"s":0},{"i":162.5,"v":6085.1,"s":0},{"i":163.8,"v":6081.6,"s":0},{"i":165.6,"v":6077.5,"s":0},{"i":167.2,"v":6076.1,"s":0},{"i":168.8,"v":6075.15,"s":0},{"i":169.8,"v":6073.2,"s":0},{"i":171.4,"v":6070.6,"s":0},{"i":173.0,"v":6068.4,"s":0},{"i":173.8,"v":6066.3,"s":0},{"i":175.0,"v":6066.4,"s":0},{"i":176.1,"v":6067.4,"s":0},{"i":177.1,"v":6070.0,"s":0},{"i":178.7,"v":6072.9,"s":0},{"i":180.2,"v":6076.8,"s":0},{"i":181.8,"v":6080.6,"s":0},{"i":182.8,"v":6082.25,"s":0},{"i":183.7,"v":6083.0,"s":0},{"i":184.8,"v":6081.5,"s":0},{"i":185.7,"v":6076.4,"s":0},{"i":187.0,"v":6069.3,"s":0},{"i":188.0,"v":6062.9,"s":0},{"i":189.3,"v":6057.1,"s":0},{"i":190.9,"v":6049.3,"s":0},{"i":191.9,"v":6046.5,"s":0},{"i":194.0,"v":6042.8,"s":0},{"i":195.3,"v":6041.7,"s":0},{"i":196.3,"v":6042.2,"s":0},{"i":197.9,"v":6042.55,"s":0},{"i":199.2,"v":6042.8,"s":0},{"i":200.0,"v":6044.1,"s":0},{"i":201.0,"v":6047.5,"s":0},{"i":202.0,"v":6050.05,"s":0},{"i":202.9,"v":6050.65,"s":0},{"i":204.1,"v":6048.35,"s":0},{"i":205.4,"v":6046.2,"s":0},{"i":207.0,"v":6044.5,"s":0},{"i":208.6,"v":6043.9,"s":0},{"i":210.1,"v":6043.5,"s":0},{"i":211.7,"v":6043.4,"s":0},{"i":212.7,"v":6043.0,"s":0},{"i":213.8,"v":6043.0,"s":0},{"i":214.8,"v":6044.1,"s":0},{"i":215.8,"v":6046.2,"s":0},{"i":216.9,"v":6048.2,"s":0},{"i":218.2,"v":6049.2,"s":0},{"i":219.5,"v":6051.6,"s":0},{"i":221.1,"v":6054.3,"s":0},{"i":222.4,"v":6059.6,"s":0},{"i":223.9,"v":6065.4,"s":0},{"i":225.7,"v":6069.65,"s":0},{"i":227.3,"v":6072.6,"s":0},{"i":229.0,"v":6075.0,"s":0},{"i":230.2,"v":6074.8,"s":0},{"i":231.2,"v":6072.65,"s":0},{"i":233.0,"v":6072.05,"s":0},{"i":234.1,"v":6072.4,"s":0},{"i":235.1,"v":6071.97,"s":0},{"i":236.4,"v":6071.2,"s":0},{"i":237.7,"v":6070.5,"s":0},{"i":239.0,"v":6069.0,"s":0},{"i":240.3,"v":6067.5,"s":0},{"i":241.9,"v":6065.7,"s":0},{"i":243.5,"v":6065.4,"s":0},{"i":244.0,"v":6065.06,"s":0},{"i":245.0,"v":6065.8,"s":0},{"i":246.1,"v":6066.0,"s":0},{"i":247.1,"v":6066.3,"s":0},{"i":248.1,"v":6065.8,"s":0},{"i":249.2,"v":6063.7,"s":0},{"i":250.7,"v":6060.7,"s":0},{"i":252.0,"v":6057.3,"s":0},{"i":253.9,"v":6051.3,"s":0},{"i":255.5,"v":6049.96,"s":0},{"i":257.0,"v":6049.1,"s":0},{"i":258.9,"v":6047.8,"s":0},{"i":260.7,"v":6047.8,"s":0},{"i":262.2,"v":6048.5,"s":0},{"i":263.8,"v":6049.3,"s":0},{"i":265.1,"v":6048.06,"s":0},{"i":266.9,"v":6047.5,"s":0},{"i":267.9,"v":6048.06,"s":0},{"i":268.9,"v":6050.1,"s":0},{"i":270.0,"v":6050.8,"s":0},{"i":271.1,"v":6051.2,"s":0},{"i":272.0,"v":6052.0,"s":0},{"i":273.4,"v":6049.7,"s":0},{"i":274.8,"v":6047.8,"s":0},
{"i":275.6,"v":6006.2,"s":1},{"i":276.3,"v":6007.5,"s":1},{"i":277.8,"v":6009.2,"s":1},{"i":279.1,"v":6009.6,"s":1},{"i":280.4,"v":6010.8,"s":1},{"i":282.0,"v":6012.2,"s":1},{"i":283.3,"v":6013.7,"s":1},{"i":284.1,"v":6014.1,"s":1},{"i":285.0,"v":6015.6,"s":1},{"i":286.1,"v":6015.5,"s":1},{"i":287.2,"v":6016.4,"s":1},{"i":288.1,"v":6016.8,"s":1},{"i":289.2,"v":6019.1,"s":1},{"i":291.0,"v":6024.6,"s":1},{"i":291.8,"v":6024.2,"s":1},{"i":292.9,"v":6024.05,"s":1},{"i":293.9,"v":6024.6,"s":1},{"i":295.0,"v":6023.2,"s":1},{"i":296.5,"v":6022.15,"s":1},{"i":298.0,"v":6022.2,"s":1},{"i":298.9,"v":6020.7,"s":1},{"i":300.2,"v":6017.8,"s":1},{"i":301.2,"v":6015.4,"s":1},{"i":302.2,"v":6013.7,"s":1},{"i":303.8,"v":6012.05,"s":1},{"i":305.4,"v":6010.8,"s":1},{"i":306.9,"v":6010.6,"s":1},{"i":308.0,"v":6012.05,"s":1},{"i":309.0,"v":6014.1,"s":1},{"i":310.0,"v":6015.8,"s":1},{"i":311.6,"v":6016.2,"s":1},{"i":312.6,"v":6017.05,"s":1},{"i":313.9,"v":6019.9,"s":1},{"i":315.0,"v":6021.6,"s":1},{"i":316.0,"v":6022.4,"s":1},{"i":316.9,"v":6021.3,"s":1},{"i":318.1,"v":6026.2,"s":1},{"i":319.5,"v":6031.2,"s":1},{"i":321.0,"v":6037.7,"s":1},{"i":322.6,"v":6049.4,"s":1},{"i":324.7,"v":6062.3,"s":1},{"i":326.8,"v":6070.6,"s":1},{"i":328.4,"v":6076.4,"s":1},{"i":329.9,"v":6084.7,"s":1},{"i":332.0,"v":6091.7,"s":1},{"i":334.1,"v":6097.6,"s":1},{"i":336.2,"v":6102.0,"s":1},{"i":338.3,"v":6106.0,"s":1},{"i":340.3,"v":6112.8,"s":1},{"i":341.9,"v":6118.7,"s":1},{"i":344.0,"v":6123.65,"s":1},{"i":345.0,"v":6124.8,"s":1},{"i":347.1,"v":6129.1,"s":1},{"i":348.7,"v":6130.7,"s":1},{"i":350.3,"v":6132.6,"s":1},{"i":351.8,"v":6135.2,"s":1},{"i":353.9,"v":6137.3,"s":1},{"i":357.0,"v":6139.9,"s":1},{"i":359.1,"v":6143.15,"s":1},{"i":361.2,"v":6145.2,"s":1},{"i":362.8,"v":6144.9,"s":1},{"i":363.8,"v":6144.2,"s":1},{"i":365.1,"v":6143.85,"s":1},{"i":366.4,"v":6144.3,"s":1},{"i":368.5,"v":6144.8,"s":1},{"i":370.6,"v":6145.4,"s":1},{"i":372.7,"v":6146.3,"s":1},{"i":374.8,"v":6148.1,"s":1},{"i":376.9,"v":6150.1,"s":1},{"i":378.7,"v":6152.4,"s":1},{"i":380.3,"v":6153.9,"s":1},{"i":382.1,"v":6156.3,"s":1}
],
"lvl":[{"p":6147.0}]
},
"layer":[
{"data":{"name":"k"},
 "mark":{"type":"rule","color":"#ffffff","strokeWidth":1.1},
 "encoding":{
   "x":{"field":"i","type":"quantitative",
     "scale":{"domain":[-0.03,382.63],"nice":false,"zero":false},
     "axis":{"orient":"bottom","title":null,
       "values":[6.3,14.3,22.3,29.3,37.3,45.3,52.3,60.3,68.3,75.3,83.3,91.3,98.3,106.3,114.3,121.3,129.3,137.3,144.3,152.3,160.3,167.3,175.3,183.3,190.3,198.3,206.3,213.3,221.3,229.3,236.3,244.3,252.3,259.3,267.3,275.3,282.3,290.3,298.3,305.3,313.3,321.3,328.3,336.3,344.3,351.3,359.3,367.3,374.3],
       "labelExpr":"(round(datum.value-6.3)%23)==0 ? ['Jun 3','Jun 4','Jun 5','Jun 6','Jun 9','Jun 10','Jun 11','Jun 12','Jun 13','Jun 16','Jun 17','Jun 18','Jun 20','Jun 23','Jun 24','Jun 25','Jun 26'][floor(round(datum.value-6.3)/23)] : ((round(datum.value-6.3)%23)==8 ? '8:00' : '16:00')",
       "labelFontWeight":{"condition":{"test":"(round(datum.value-6.3)%23)==0","value":"bold"},"value":"normal"},
       "labelColor":"#f0f0f0","labelFont":"DejaVu Sans","labelFontSize":11,"labelOffset":-5,"labelPadding":5,"tickSize":0,"ticks":false,"domain":false,
       "labelOverlap":false,"labelBound":false,"labelFlush":false,
       "grid":true,
       "gridColor":{"condition":{"test":"(round(datum.value-6.3)%23)==16","value":"#5e5e5e"},"value":"#3a3a3a"},
       "gridDash":{"condition":{"test":"(round(datum.value-6.3)%23)==16","value":[6,3]},"value":[3,3]}}},
   "y":{"field":"l","type":"quantitative",
   "scale":{"domain":[5933.74,6184.6],"nice":false,"zero":false},
   "axis":{"orient":"right","title":null,
     "values":[5937.5,5943.75,5950,5956.25,5962.5,5968.75,5975,5981.25,5987.5,5993.75,6000,6006.25,6012.5,6018.75,6025,6031.25,6037.5,6043.75,6050,6056.25,6062.5,6068.75,6075,6081.25,6087.5,6093.75,6100,6106.25,6112.5,6118.75,6125,6131.25,6137.5,6143.75,6150,6156.25,6162.5,6168.75,6175,6181.25],
     "format":".2f","labelColor":"#e8e8e8","labelFont":"DejaVu Sans","labelFontSize":11,"labelPadding":2,"tickSize":3,"tickColor":"#999999","domain":false,
     "grid":true,"gridColor":"#3a3a3a","gridDash":[3,3],"gridWidth":1,"labelOverlap":false,"labelBound":false,"labelFlush":false}},
   "y2":{"field":"h"}}},
{"data":{"name":"lvl"},
 "mark":{"type":"rule","color":"#7a7a7a","strokeWidth":1,"strokeDash":[6,3]},
 "encoding":{"y":{"field":"p","type":"quantitative"}}},
{"data":{"name":"k"},
 "mark":{"type":"bar","width":5},
 "encoding":{
   "x":{"field":"i","type":"quantitative"},
   "y":{"field":"o","type":"quantitative"},
   "y2":{"field":"c"},
   "color":{"condition":[{"test":"datum.c > datum.o","value":"#00a800"},{"test":"datum.c < datum.o","value":"#d80000"}],"value":"#e8e800"}}},
{"data":{"name":"k"},
 "transform":[{"filter":"datum.o == datum.c"}],
 "mark":{"type":"tick","orient":"horizontal","size":5,"thickness":2,"color":"#f0f000"},
 "encoding":{
   "x":{"field":"i","type":"quantitative"},
   "y":{"field":"o","type":"quantitative"}}},
{"data":{"name":"ma"},
 "mark":{"type":"line","color":"#d8d000","strokeWidth":1.3,"interpolate":"linear"},
 "encoding":{
   "x":{"field":"i","type":"quantitative"},
   "y":{"field":"v","type":"quantitative"},
   "detail":{"field":"s","type":"nominal"}}}
]
}
